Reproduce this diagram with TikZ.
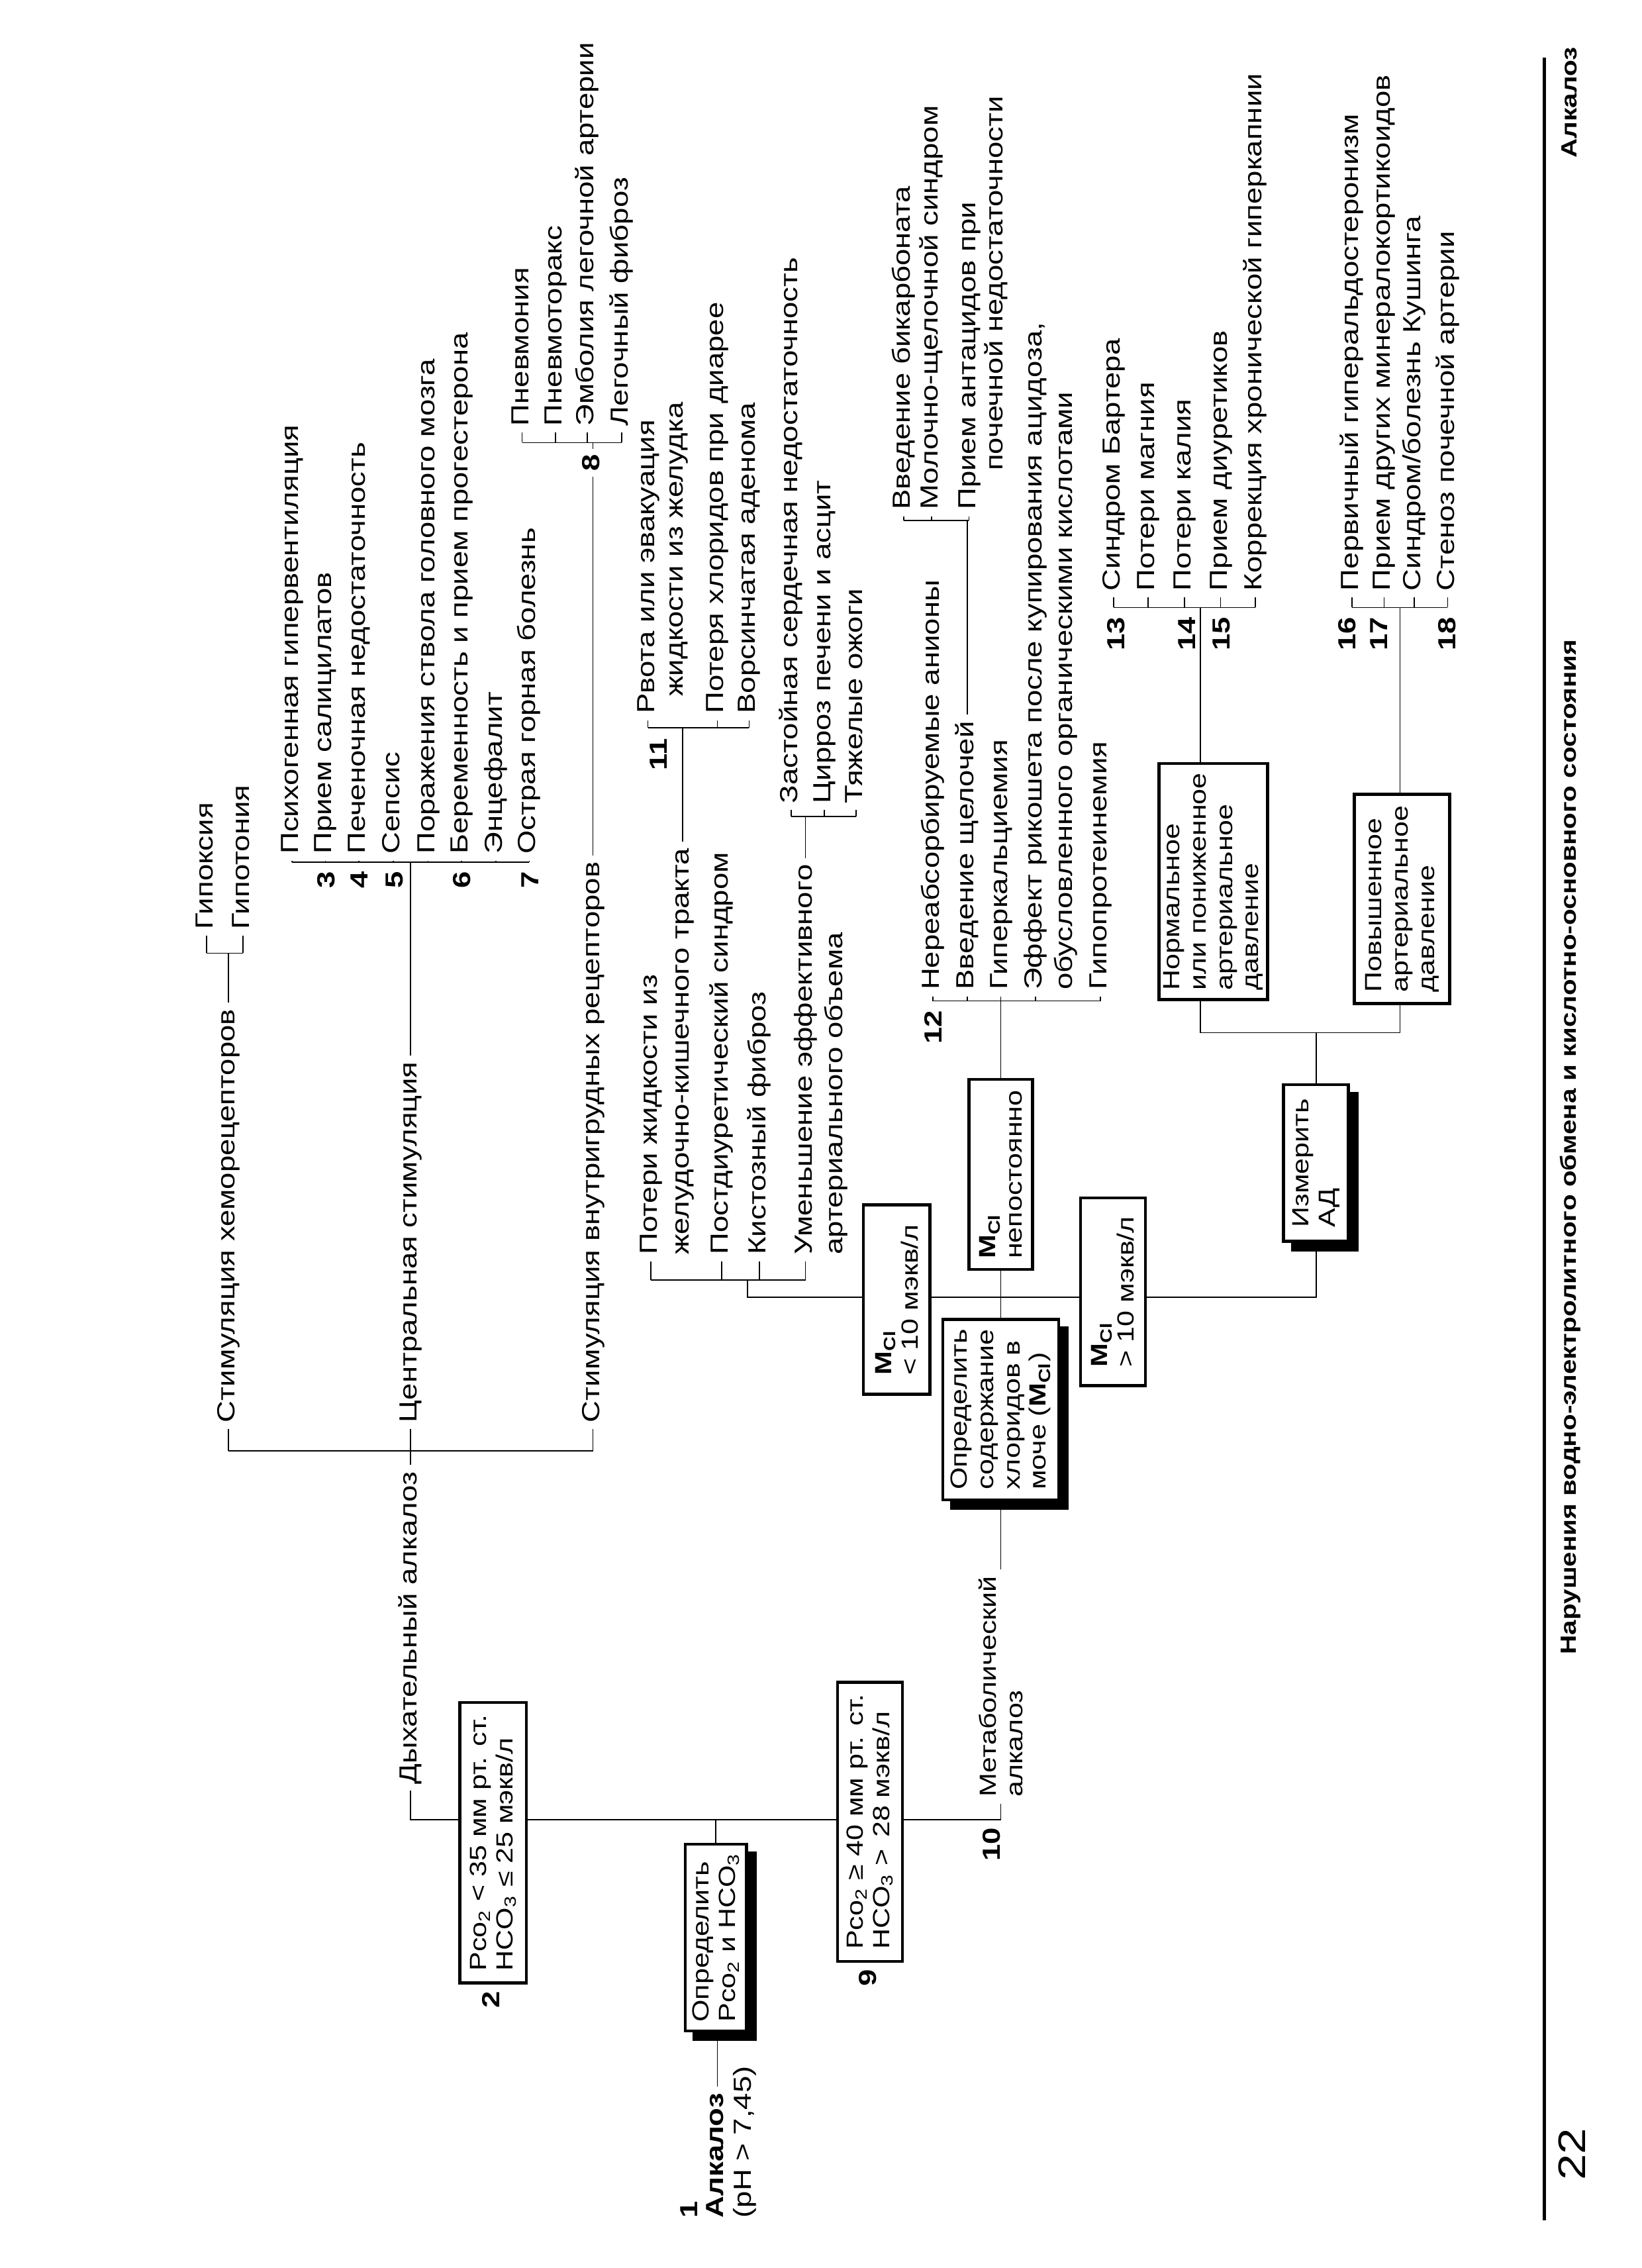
\documentclass[tikz,border=0pt]{standalone}
\usepackage{fontspec}
\setmainfont{Liberation Sans}[FakeStretch=1.22]
\usetikzlibrary{positioning,calc,backgrounds}

\newcommand\itemfont{\fontsize{9}{12}\selectfont}
\newcommand\boxfont{\fontsize{8.5}{9.6}\selectfont}

\begin{document}
\begin{tikzpicture}[
  x=0.18502mm, y=0.18502mm,
  rotate=90, transform shape,
  line width=0.85pt,
  every node/.style={font=\itemfont, inner sep=2pt},
  itm/.style={anchor=west, text height=6.5pt, text depth=1.9pt},
  num/.style={anchor=east, font=\itemfont\bfseries, text height=6.5pt, text depth=1.9pt},
  box/.style 2 args={draw, line width=1.1pt, fill=white, align=left, font=\boxfont,
    inner xsep=3pt, inner ysep=1pt, minimum width=#1, minimum height=#2},
  shadowfill/.style={fill=black}]

\useasboundingbox (0,0) rectangle (1568,1135);

% start
\node[itm,font=\itemfont\bfseries] (one) at (30,657) {1};
\node[itm,font=\itemfont\bfseries] (alk) at (30,639) {Алкалоз};
\node[itm] (ph) at (30,620) {(pH > 7,45)};
\node[box={23.9mm}{7.8mm}] (box1) at (228.5,640) {Определить\\Pco\textsubscript{2} и HCO\textsubscript{3}};

% trunk
\coordinate (tt) at (310,851);
\coordinate (tb) at (310,443);
\node[box={35.9mm}{8.5mm}] (box2) at (294,794) {Pco\textsubscript{2} < 35 мм рт. ст.\\HCO\textsubscript{3} ≤ 25 мэкв/л};
\node[num] (n2) at (box2.west) {2};
\node[box={35.7mm}{8.3mm}] (box9) at (308.5,533.5) {Pco\textsubscript{2} ≥ 40 мм рт. ст.\\HCO\textsubscript{3} >\enspace 28 мэкв/л};
\node[num] (n9) at (box9.west) {9};

% respiratory alkalosis
\node[itm] (dyx) at (330,851) {Дыхательный алкалоз};
\coordinate (b1t) at (565,977);
\coordinate (b1b) at (565,725);
\node[itm] (hem) at (580,977) {Стимуляция хеморецепторов};
\node[itm] (cen) at (580,851) {Центральная стимуляция};
\node[itm] (vnu) at (580,725) {Стимуляция внутригрудных рецепторов};

\coordinate (bgt) at (909,992);
\coordinate (bgb) at (909,967);
\node[itm] (hyp1) at (921,992) {Гипоксия};
\node[itm] (hyp2) at (921,967) {Гипотония};

\coordinate (bct) at (972,933);
\coordinate (bcb) at (972,769);
\node[itm] (c1) at (973,933) {Психогенная гипервентиляция};
\node[itm] (c2) at (973,910) {Прием салицилатов};
\node[itm] (c3) at (973,887) {Печеночная недостаточность};
\node[itm] (c4) at (973,863) {Сепсис};
\node[itm] (c5) at (973,839) {Поражения ствола головного мозга};
\node[itm] (c6) at (973,816) {Беременность и прием прогестерона};
\node[itm] (c7) at (973,792) {Энцефалит};
\node[itm] (c8) at (973,769) {Острая горная болезнь};
\node[num] (n3) at (970,908) {3};
\node[num] (n4) at (970,885) {4};
\node[num] (n5) at (970,861) {5};
\node[num] (n6) at (970,814) {6};
\node[num] (n7) at (970,767) {7};

\coordinate (b8t) at (1262,774);
\coordinate (b8b) at (1262,705);
\node[itm] (p1) at (1269,774) {Пневмония};
\node[itm] (p2) at (1269,751) {Пневмоторакс};
\node[itm] (p3) at (1269,729) {Эмболия легочной артерии};
\node[itm] (p4) at (1269,705) {Легочный фиброз};
\node[num,anchor=center,fill=white] (n8) at (1248,725) {8};

% metabolic alkalosis
\node[num] (n10) at (309,448) {10};
\node[anchor=west, align=left, font=\boxfont] (met) at (321,443) {Метаболический\\алкалоз};
\node[box={23.1mm}{14.8mm}] (chl) at (593.5,443) {Определить\\содержание\\хлоридов в\\моче (\textbf{M\textsubscript{Cl}})};
\coordinate (mt) at (671,618);
\coordinate (mb) at (671,225);
\node[box={24.2mm}{8.5mm}] (mlo) at (669.5,515) {\textbf{M\textsubscript{Cl}}\\< 10 мэкв/л};
\node[box={24.3mm}{8.1mm}] (mvar) at (756,443) {\textbf{M\textsubscript{Cl}}\\непостоянно};
\node[box={24mm}{8.3mm}] (mhi) at (675,365.5) {\textbf{M\textsubscript{Cl}}\\> 10 мэкв/л};

\coordinate (pt) at (683,685);
\coordinate (pb) at (683,578);
\node[itm] (pot1) at (696,685) {Потери жидкости из};
\node[itm] (pot2) at (696,663) {желудочно-кишечного тракта};
\node[itm] (post) at (696,636) {Постдиуретический синдром};
\node[itm] (kis) at (696,610) {Кистозный фиброз};
\node[itm] (um1) at (696,578) {Уменьшение эффективного};
\node[itm] (um2) at (696,557) {артериального объема};

\coordinate (b11t) at (1065,687);
\coordinate (b11b) at (1065,617);
\node[itm] (rv1) at (1070,687) {Рвота или эвакуация};
\node[itm] (rv2) at (1082,667) {жидкости из желудка};
\node[itm] (xlo) at (1070,639) {Потеря хлоридов при диарее};
\node[itm] (vor) at (1070,617) {Ворсинчатая аденома};
\node[num] (n11) at (1062,678) {11};

\coordinate (bzt) at (1003.5,588);
\coordinate (bzb) at (1003.5,543);
\node[itm] (zas) at (1008,588) {Застойная сердечная недостаточность};
\node[itm] (cir) at (1008,565) {Цирроз печени и асцит};
\node[itm] (tya) at (1008,543) {Тяжелые ожоги};

\coordinate (b12t) at (876,490);
\coordinate (b12b) at (876,374);
\node[itm] (ner) at (879,490) {Нереабсорбируемые анионы};
\node[itm] (vve) at (879,466) {Введение щелочей};
\node[itm] (gkal) at (879,443) {Гиперкальциемия};
\node[itm] (ef1) at (879,419) {Эффект рикошета после купирования ацидоза,};
\node[itm] (ef2) at (879,398) {обусловленного органическими кислотами};
\node[itm] (gpr) at (879,374) {Гипопротеинемия};
\node[num] (n12) at (874,488) {12};

\coordinate (bvt) at (1208,510);
\coordinate (bvb) at (1208,465);
\node[itm] (bik) at (1211,510) {Введение бикарбоната};
\node[itm] (mol) at (1211,491) {Молочно-щелочной синдром};
\node[itm] (ant1) at (1211,465) {Прием антацидов при};
\node[itm] (ant2) at (1238,446) {почечной недостаточности};

% blood pressure
\node[box={20mm}{8.3mm}] (adb) at (764,225) {Измерить\\АД};
\coordinate (bat) at (854,305);
\coordinate (bab) at (854,167);
\node[box={30.2mm}{13.9mm}] (norm) at (958.5,296) {Нормальное\\или пониженное\\артериальное\\давление};
\node[box={26.8mm}{12.2mm}] (high) at (946.5,165.5) {Повышенное\\артериальное\\давление};

\coordinate (b13t) at (1148,365);
\coordinate (b13b) at (1148,267);
\node[itm] (bar) at (1155,365) {Синдром Бартера};
\node[itm] (mag) at (1155,341) {Потери магния};
\node[itm] (kal) at (1155,316) {Потери калия};
\node[itm] (diu) at (1155,291) {Прием диуретиков};
\node[itm] (kor) at (1155,267) {Коррекция хронической гиперкапнии};
\node[num] (n13) at (1146,362) {13};
\node[num] (n14) at (1146,313) {14};
\node[num] (n15) at (1146,289) {15};

\coordinate (b16t) at (1148,200);
\coordinate (b16b) at (1148,134);
\node[itm] (per) at (1155,200) {Первичный гиперальдостеронизм};
\node[itm] (mnk) at (1155,178) {Прием других минералокортикоидов};
\node[itm] (kus) at (1155,157) {Синдром/болезнь Кушинга};
\node[itm] (ste) at (1155,134) {Стеноз почечной артерии};
\node[num] (n16) at (1146,202) {16};
\node[num] (n17) at (1146,180) {17};
\node[num] (n18) at (1146,133) {18};

% page footer
\coordinate (r1) at (33,67);
\coordinate (r2) at (1528,67);
\draw[line width=1.2pt] (r1) -- (r2);
\node[anchor=west, font=\fontsize{14}{16}\selectfont] (pg) at (56,48) {22};
\node[font=\fontsize{8}{10}\selectfont\bfseries] (ttl) at (775,49) {Нарушения водно-электролитного обмена и кислотно-основного состояния};
\node[anchor=east, font=\fontsize{8}{10}\selectfont\bfseries] (sec) at (1540,50) {Алкалоз};

\begin{scope}[on background layer]
  \draw (alk.east) -- (alk.east -| box1.west);
  \draw (box1.east) -- (box1.east -| tt);
  \draw (dyx.west) -- (tt) -- (tb) -- (met.west);
  % respiratory
  \draw (dyx.east) -- (cen.west);
  \draw (b1t) -- (b1b);
  \draw (b1t) -- (hem.west);
  \draw (b1b) -- (vnu.west);
  \draw (hem.east) -- (hem.east -| bgt);
  \draw (bgt) -- (bgb);
  \draw (bgt) -- (hyp1.west);
  \draw (bgb) -- (hyp2.west);
  \draw (cen.east) -- (cen.east -| bct);
  \draw (bct) -- (bcb);
  \foreach \i in {1,...,8} \draw (c\i.west -| bct) -- (c\i.west);
  \draw (vnu.east) -- (vnu.east -| b8t);
  \draw (b8t) -- (b8b);
  \foreach \i in {1,...,4} \draw (p\i.west -| b8t) -- (p\i.west);
  % metabolic
  \draw (met.east) -- (met.east -| chl.west);
  \draw (chl.east) -- (mvar.west);
  \draw (mt -| pt) -- (mt) -- (mb) -- (mb -| adb.west);
  \draw (pt) -- (pb);
  \foreach \i in {pot1,post,kis,um1} \draw (\i.west -| pt) -- (\i.west);
  \draw (pot2.east) -- (pot2.east -| b11t);
  \draw (b11t) -- (b11b);
  \foreach \i in {rv1,xlo,vor} \draw (\i.west -| b11t) -- (\i.west);
  \draw (um1.east) -- (um1.east -| bzt);
  \draw (bzt) -- (bzb);
  \foreach \i in {zas,cir,tya} \draw (\i.west -| bzt) -- (\i.west);
  \draw (mvar.east) -- (mvar.east -| b12t);
  \draw (b12t) -- (b12b);
  \foreach \i in {ner,vve,gkal,ef1,gpr} \draw (\i.west -| b12t) -- (\i.west);
  \draw (vve.east) -- (vve.east -| bvt);
  \draw (bvt) -- (bvb);
  \foreach \i in {bik,mol,ant1} \draw (\i.west -| bvt) -- (\i.west);
  % blood pressure
  \draw (adb.east) -- (adb.east -| bat);
  \draw (bat) -- (bab);
  \draw (bat) -- (bat -| norm.west);
  \draw (bab) -- (bab -| high.west);
  \draw (norm.east |- bat) -- (b13t |- bat);
  \draw (b13t) -- (b13b);
  \foreach \i in {bar,mag,kal,diu,kor} \draw (\i.west -| b13t) -- (\i.west);
  \draw (high.east |- bab) -- (b16t |- bab);
  \draw (b16t) -- (b16b);
  \foreach \i in {per,mnk,kus,ste} \draw (\i.west -| b16t) -- (\i.west);
  % shadows
  \foreach \bx in {box1,chl,adb}
    \fill[shadowfill] ($(\bx.south west)+(-6,-6)$) rectangle ($(\bx.north east)+(-6,-6)$);
\end{scope}
\end{tikzpicture}
\end{document}
